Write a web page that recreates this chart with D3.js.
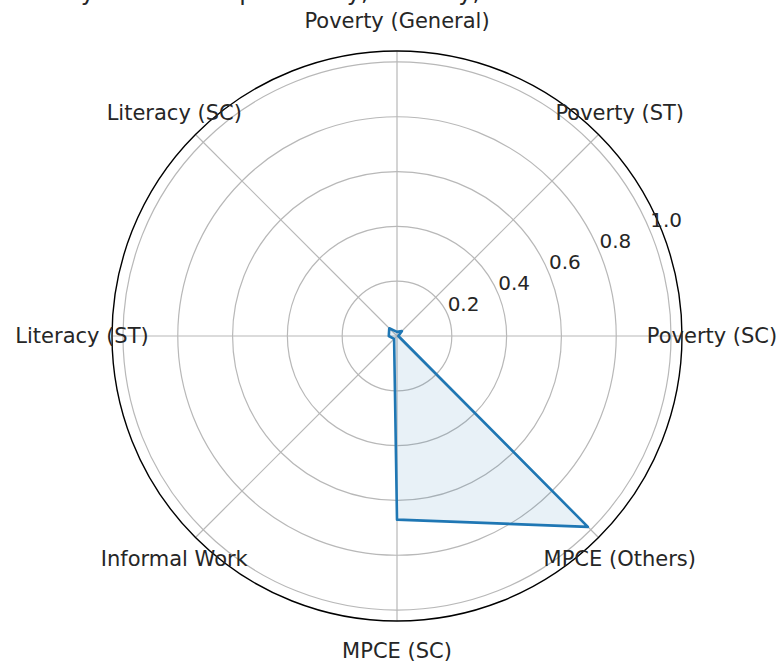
<!DOCTYPE html>
<html>
<head>
<meta charset="utf-8">
<script src="https://cdn.jsdelivr.net/npm/d3@7"></script>
<style>
  body { margin: 0; background: #fff; }
  text { font-family: "DejaVu Sans", sans-serif; fill: #262626; }
</style>
</head>
<body>
<div id="chart"></div>
<script>
// data (order = counterclockwise from 0 deg, matplotlib default)
const categories = ["Poverty (SC)", "Poverty (ST)", "Poverty (General)", "Literacy (SC)",
  "Literacy (ST)", "Informal Work", "MPCE (SC)", "MPCE (Others)"];
const values = [0.005, 0.025, 0.015, 0.04, 0.03, 0.015, 0.67, 0.985];
const rTicks = [0.2, 0.4, 0.6, 0.8, 1.0];
const rMax = 1.04;
const titleText = "Normalized Disparity Indicators by Social Group: Poverty, Literacy, Informal Work and Monthly per Capita Expenditure";

const width = 778;
const height = 662;
const cx = 397;
const cy = 336;
const outerR = 285;

const svg = d3
  .select("#chart")
  .append("svg")
  .attr("width", width)
  .attr("height", height);

// title, cut off at the top like the reference (only descenders show)
svg
  .append("text")
  .attr("x", width / 2)
  .attr("y", 0)
  .attr("text-anchor", "middle")
  .style("font-size", "24px")
  .text(titleText);

const chart = svg.append("g").attr("transform", "translate(" + cx + "," + cy + ")");

const r = d3.scaleLinear().domain([0, rMax]).range([0, outerR]);
// angle in radians, counterclockwise from east
const angle = d3
  .scaleLinear()
  .domain([0, categories.length])
  .range([0, 2 * Math.PI]);

const px = (a, rad) => rad * Math.cos(a);
const py = (a, rad) => -rad * Math.sin(a);

// grid circles
chart
  .selectAll(".ring")
  .data(rTicks)
  .join("circle")
  .attr("class", "ring")
  .attr("r", (d) => r(d))
  .attr("fill", "none")
  .attr("stroke", "#b8b8b8")
  .attr("stroke-width", 1.2);

// spokes
chart
  .selectAll(".spoke")
  .data(categories)
  .join("line")
  .attr("class", "spoke")
  .attr("x1", 0)
  .attr("y1", 0)
  .attr("x2", (d, i) => px(angle(i), r(rMax)))
  .attr("y2", (d, i) => py(angle(i), r(rMax)))
  .attr("stroke", "#b8b8b8")
  .attr("stroke-width", 1.2);

// data polygon
const pts = values.map((v, i) => [px(angle(i), r(v)), py(angle(i), r(v))]);
const line = d3.line().curve(d3.curveLinearClosed);

chart
  .append("path")
  .attr("d", line(pts))
  .attr("fill", "#1f77b4")
  .attr("fill-opacity", 0.1)
  .attr("stroke", "none");

chart
  .append("path")
  .attr("d", line(pts))
  .attr("fill", "none")
  .attr("stroke", "#1f77b4")
  .attr("stroke-width", 2.6)
  .attr("stroke-linejoin", "round");

// outer frame
chart
  .append("circle")
  .attr("r", r(rMax))
  .attr("fill", "none")
  .attr("stroke", "#000")
  .attr("stroke-width", 1.4);

// radial tick labels at 22.5 deg
const labAng = Math.PI / 8;
chart
  .selectAll(".rlab")
  .data(rTicks)
  .join("text")
  .attr("class", "rlab")
  .attr("x", (d) => px(labAng, r(d)))
  .attr("y", (d) => py(labAng, r(d)) - 4)
  .attr("text-anchor", "start")
  .style("font-size", "20px")
  .text((d) => d3.format(".1f")(d));

// category labels
chart
  .selectAll(".clab")
  .data(categories)
  .join("text")
  .attr("class", "clab")
  .attr("x", (d, i) => px(angle(i), outerR + 30))
  .attr("y", (d, i) => py(angle(i), outerR + 30))
  .attr("text-anchor", "middle")
  .attr("dominant-baseline", "central")
  .style("font-size", "21px")
  .text((d) => d);
</script>
</body>
</html>
